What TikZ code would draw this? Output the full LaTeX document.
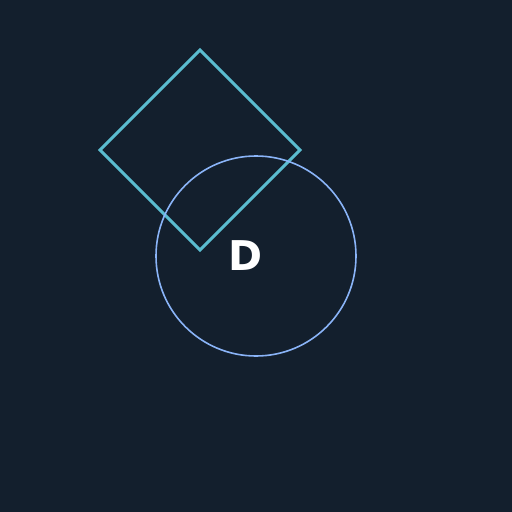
\documentclass[tikz,border=0pt]{standalone}
\usepackage{fontspec}
\setmainfont{DejaVu Sans}
\definecolor{bg}{HTML}{131F2D}
\definecolor{cyanline}{HTML}{5BBCD0}
\definecolor{circ}{HTML}{8AB4F8}
\begin{document}
\begin{tikzpicture}[x=1pt,y=-1pt,
  diam/.style={draw=cyanline,line width=3pt,line join=miter},
  ring/.style={draw=circ,line width=1.6pt},
  lbl/.style={text=white,font=\fontsize{41}{41}\selectfont\bfseries,inner sep=0pt}]
\fill[bg] (0,0) rectangle (512,512);
\useasboundingbox (0,0) rectangle (512,512);
\draw[diam] (200,50) -- (300,150) -- (200,250) -- (100,150) -- cycle;
\node[ring,circle,minimum size=200pt,inner sep=0pt] (c) at (256,256) {};
\node[lbl,anchor=base] (d) at (246,270) {D};
\end{tikzpicture}
\end{document}
